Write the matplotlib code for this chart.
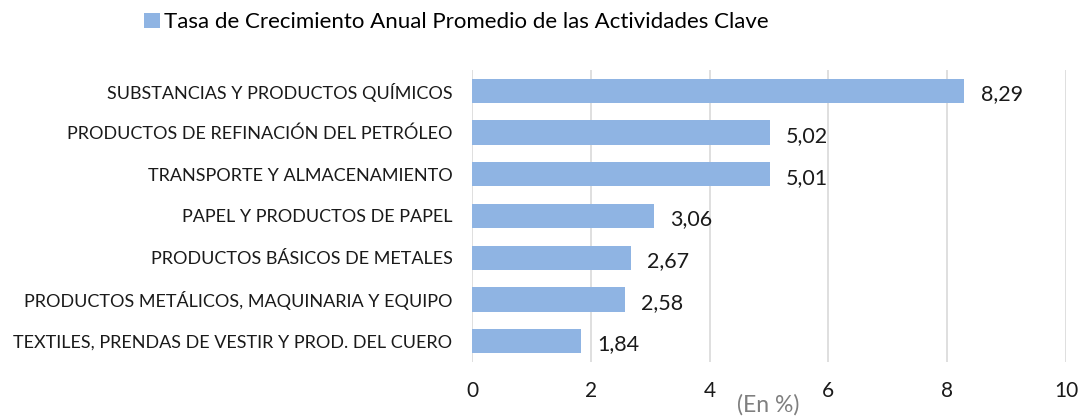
import matplotlib
matplotlib.use("Agg")
import matplotlib.pyplot as plt

# datos
actividades = [
    "SUBSTANCIAS Y PRODUCTOS QUÍMICOS",
    "PRODUCTOS DE REFINACIÓN DEL PETRÓLEO",
    "TRANSPORTE Y ALMACENAMIENTO",
    "PAPEL Y PRODUCTOS DE PAPEL",
    "PRODUCTOS BÁSICOS DE METALES",
    "PRODUCTOS METÁLICOS, MAQUINARIA Y EQUIPO",
    "TEXTILES, PRENDAS DE VESTIR Y PROD. DEL CUERO",
]
tasas = [8.29, 5.02, 5.01, 3.06, 2.67, 2.58, 1.84]
etiquetas = ["8,29", "5,02", "5,01", "3,06", "2,67", "2,58", "1,84"]
xticks = [0, 2, 4, 6, 8, 10]

plt.rcParams['font.family'] = ['Lato', 'DejaVu Sans']

fig = plt.figure(figsize=(10.79, 4.19), dpi=100)
ax = fig.add_axes([0.4374, 0.136, 0.5506, 0.697])

pos = list(range(len(actividades)))
bars = ax.barh(pos, tasas, height=0.58, color="#8FB4E3", zorder=3,
               label="Tasa de Crecimiento Anual Promedio de las Actividades Clave")
ax.set_ylim(len(actividades) - 0.5, -0.5)
ax.set_xlim(0, 10)

for b, txt in zip(bars, etiquetas):
    ax.text(b.get_width() + 0.27, b.get_y() + b.get_height() / 2 + 0.08, txt,
            va="center", ha="left", fontsize=15.5, color="#1a1a1a")

ax.set_yticks(pos)
ax.set_yticklabels(actividades, fontsize=13, color="#1a1a1a")
ax.set_xticks(xticks)
ax.set_xticklabels([str(t) for t in xticks], fontsize=15, color="#1a1a1a")
ax.tick_params(axis="both", length=0)
ax.tick_params(axis="x", pad=14)
ax.tick_params(axis="y", pad=14)
ax.grid(axis="x", color="#D9D9D9", linewidth=1.2, zorder=0)
for s in ax.spines.values():
    s.set_visible(False)

fig.text(0.712, 0.035, "(En %)", fontsize=16.5, color="#7f7f7f", ha="center", va="center")

fig.legend(loc="center left", bbox_to_anchor=(0.115, 0.947), frameon=False,
           fontsize=16, handlelength=0.7, handleheight=0.7, handletextpad=0.2)

fig.savefig("out.png", dpi=100, facecolor="white")
